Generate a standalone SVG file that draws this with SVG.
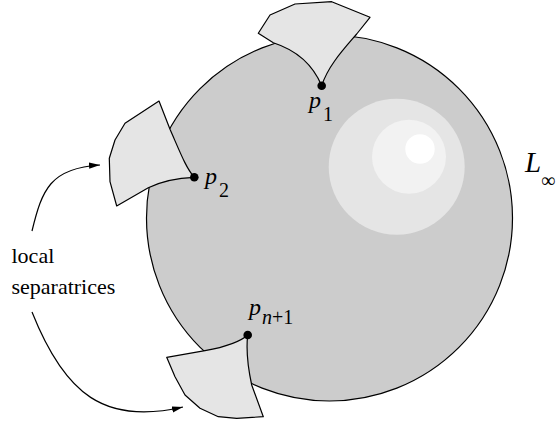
<svg xmlns="http://www.w3.org/2000/svg" width="557" height="426" viewBox="0 0 557 426">
<defs>
<style>
.ln{fill:none;stroke:#000;stroke-width:1.2}
.wedge{fill:#e5e5e5;stroke:#000;stroke-width:1.2;stroke-linejoin:round}
.dot{fill:#000}
.t{font-family:"Liberation Serif","Times New Roman",serif;fill:#000}
.it{font-style:italic}
</style>
<marker id="ah" markerWidth="12" markerHeight="8" refX="11" refY="4" orient="auto" markerUnits="userSpaceOnUse">
<path d="M0,0.8 L11,4 L0,7.2 Z" fill="#000"/>
</marker>
</defs>
<rect width="557" height="426" fill="#fff"/>
<g id="surface">
<circle cx="329.5" cy="218" r="183" fill="#cccccc" stroke="#000" stroke-width="1.2"/>
<circle cx="396.7" cy="166.7" r="68" fill="#e5e5e5"/>
<circle cx="409" cy="156.7" r="37" fill="#f2f2f2"/>
<circle cx="420" cy="149" r="14.7" fill="#ffffff"/>
</g>
<g id="sep1">
<path class="wedge" d="M321.7,85.7 C313,65 296,50 273.3,42.7 L258.3,33.3 L270,15 L295,4 L331.7,1.7 L370,17.3 L356.7,34 C343,50 328,66 321.7,85.7 Z"/>
</g>
<g id="sep2">
<path class="wedge" d="M194.3,177.3 C186,168 180,152 170,129.3 L159,101 L125,123.3 L115,140 L109.3,158.3 L110,181.7 L116.7,206 L148.3,187.7 C160,182 175,178 194.3,177.3 Z"/>
</g>
<g id="sep3">
<path class="wedge" d="M247.7,335 C240,342 225,347 205,350.7 L166.7,357.3 L175,376.7 L185,395 L200,408.3 L218.3,416.7 L236.7,418.3 L263.3,416.7 L251.7,385 C248,368 246,350 247.7,335 Z"/>
</g>
<g id="p1">
<circle class="dot" cx="321.7" cy="85.7" r="4.3"/>
<text class="t" font-size="24"><tspan class="it" x="309" y="108">p</tspan><tspan x="323" y="121" font-size="20">1</tspan></text>
</g>
<g id="p2">
<circle class="dot" cx="194.3" cy="177.3" r="4.3"/>
<text class="t" font-size="24"><tspan class="it" x="205" y="184">p</tspan><tspan x="219" y="197" font-size="20">2</tspan></text>
</g>
<g id="pn1">
<circle class="dot" cx="247.7" cy="335" r="4.3"/>
<text class="t" font-size="24"><tspan class="it" x="249" y="315">p</tspan><tspan class="it" x="262" y="324" font-size="20">n</tspan><tspan font-size="20">+1</tspan></text>
</g>
<g id="Linf">
<text class="t" font-size="29"><tspan class="it" x="525" y="172">L</tspan><tspan x="541" y="187" font-size="20">∞</tspan></text>
</g>
<g id="label">
<text class="t" font-size="22" x="11.5" y="263">local</text>
<text class="t" font-size="22" x="11.5" y="294">separatrices</text>
</g>
<g id="connectors">
<path class="ln" d="M32,231 C42,190 50,168 100,165" marker-end="url(#ah)"/>
<path class="ln" d="M32,312 C65,395 105,425 183,407" marker-end="url(#ah)"/>
</g>
</svg>
